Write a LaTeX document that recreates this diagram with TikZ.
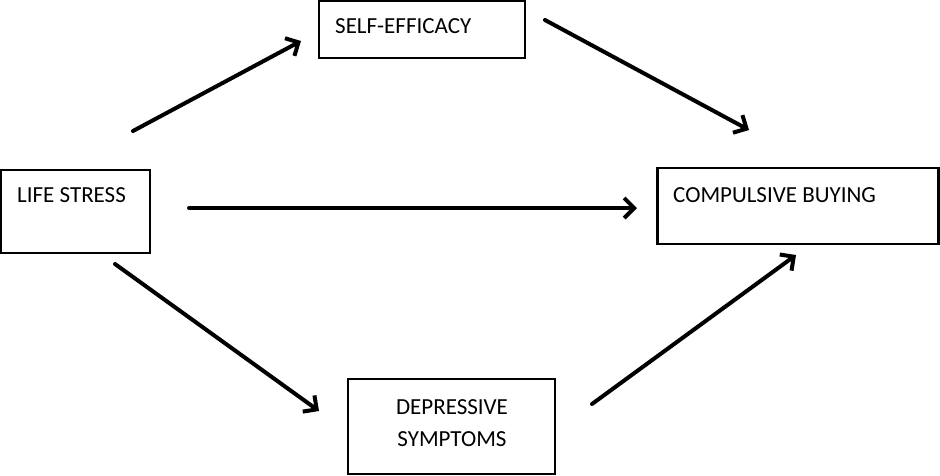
\documentclass[tikz,border=0pt]{standalone}
\usepackage{fontspec}
\setmainfont{Carlito}
\usetikzlibrary{arrows.meta}
\begin{document}
\begin{tikzpicture}[x=1pt,y=-1pt,
  box/.style={draw=black,line width=2.2pt,inner sep=0pt},
  lbl/.style={inner sep=0pt,font=\fontsize{23}{27}\selectfont},
  arr/.style={line width=4pt,line cap=round,-{Straight Barb[length=10pt,width=20pt,line width=4pt]}}]
\useasboundingbox (0,0) rectangle (940,475);
% boxes
\node[box,minimum width=206pt,minimum height=57pt] (se) at (422,29.5) {};
\node[box,minimum width=149pt,minimum height=83pt] (ls) at (75.5,211.5) {};
\node[box,minimum width=281pt,minimum height=76pt] (cb) at (798,206) {};
\node[box,minimum width=207pt,minimum height=95pt] (ds) at (451.5,426.5) {};
% labels
\node[lbl,anchor=base west] (set) at (335,33) {SELF-EFFICACY};
\node[lbl,anchor=base west] (lst) at (17,202) {LIFE STRESS};
\node[lbl,anchor=base west] (cbt) at (673,202) {COMPULSIVE BUYING};
\node[lbl,anchor=base] (dst1) at (452,414) {DEPRESSIVE};
\node[lbl,anchor=base] (dst2) at (452,446) {SYMPTOMS};
% arrow endpoints
\coordinate (a1s) at (133,131); \coordinate (a1e) at (301,41);
\coordinate (a2s) at (545,20);  \coordinate (a2e) at (749,130);
\coordinate (a3s) at (189,208); \coordinate (a3e) at (637,208);
\coordinate (a4s) at (115,264); \coordinate (a4e) at (319,411);
\coordinate (a5s) at (592,404); \coordinate (a5e) at (796,255);
\draw[arr] (a1s) -- (a1e);
\draw[arr] (a2s) -- (a2e);
\draw[arr] (a3s) -- (a3e);
\draw[arr] (a4s) -- (a4e);
\draw[arr] (a5s) -- (a5e);
\end{tikzpicture}
\end{document}
